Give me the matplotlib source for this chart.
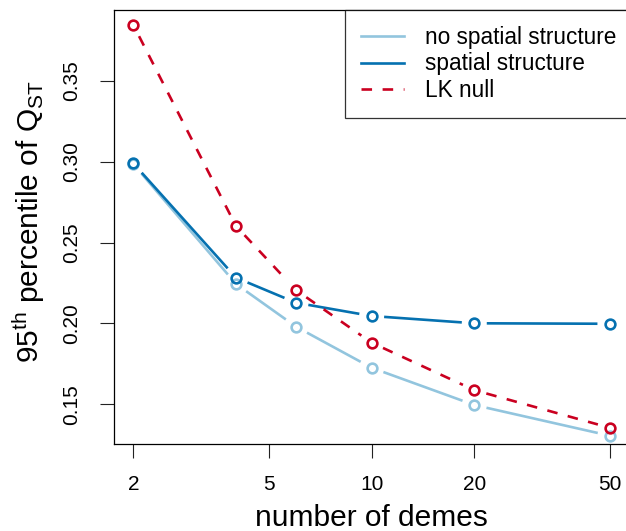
import numpy as np
import matplotlib
matplotlib.use("Agg")
import matplotlib.pyplot as plt
from matplotlib.lines import Line2D

plt.rcParams['font.family'] = ['Liberation Sans', 'DejaVu Sans']
plt.rcParams['mathtext.default'] = 'regular'

demes = [2, 4, 6, 10, 20, 50]
no_spatial = [0.2985, 0.2244, 0.1980, 0.1726, 0.1496, 0.1306]
spatial = [0.2989, 0.2283, 0.2128, 0.2046, 0.2001, 0.1998]
lk_null = [0.3844, 0.2602, 0.2206, 0.1881, 0.1588, 0.1355]

series = [
    ("no spatial structure", no_spatial, "#92C5DE", "-"),
    ("spatial structure", spatial, "#0571B0", "-"),
    ("LK null", lk_null, "#CA0020", "--"),
]

W, H = 626, 531
fig = plt.figure(figsize=(W / 100, H / 100), dpi=100)
ax = fig.add_axes([114.3 / W, 1 - 444 / H, (629 - 114.3) / W, (444 - 10) / H])
ax.set_xscale("log")
lo, hi = np.log10(demes[0]), np.log10(demes[-1])
pad = 0.04 * (hi - lo)
ax.set_xlim(10 ** (lo - pad), 10 ** (hi + pad))
ax.set_ylim(0.1255, 0.3937)

GAP = 12.5  # px, like R's type="b"


def plot_b(ax, x, y, color, ls):
    pts = ax.transData.transform(np.column_stack([x, y]))
    inv = ax.transData.inverted()
    for p0, p1 in zip(pts[:-1], pts[1:]):
        d = p1 - p0
        n = np.hypot(*d)
        if n <= 2 * GAP:
            continue
        u = d / n
        a = inv.transform(p0 + u * GAP)
        b = inv.transform(p1 - u * GAP)
        kw = dict(dashes=(4, 4)) if ls == "--" else {}
        ax.plot([a[0], b[0]], [a[1], b[1]], color=color, lw=1.9,
                solid_capstyle="butt", dash_capstyle="butt", **kw)
    ax.plot(x, y, ls="none", marker="o", ms=7, mew=1.9,
            mfc="none", mec=color)


for label, vals, color, ls in series:
    plot_b(ax, demes, vals, color, ls)

ax.set_xticks(demes[:1] + [5, 10, 20, 50])
ax.set_xticklabels(["2", "5", "10", "20", "50"])
ax.xaxis.set_minor_locator(matplotlib.ticker.NullLocator())
ax.set_yticks([0.15, 0.20, 0.25, 0.30, 0.35])
ax.set_yticklabels(["0.15", "0.20", "0.25", "0.30", "0.35"])
ax.tick_params(axis="both", direction="out", length=10, width=0.8,
               labelsize=15, color="#222222")
ax.tick_params(axis="x", pad=12)
ax.tick_params(axis="y", pad=14, labelrotation=90)
for t in ax.get_yticklabels():
    t.set_va("center")
for s in ax.spines.values():
    s.set_linewidth(0.9)

fig.text(371 / W, 1 - 526 / H, "number of demes", fontsize=21.5,
         ha="center", va="baseline")
fig.text(29 / W, 1 - 222 / H, r"95$^{th}$ percentile of Q$_{ST}$",
         fontsize=21.5, rotation=90, ha="center", va="center")

handles = [Line2D([], [], color=c, lw=1.9, ls=ls,
                  **(dict(dashes=(4, 4)) if ls == "--" else {}))
           for _, _, c, ls in series]
leg = ax.legend(handles, [s[0] for s in series], loc="upper left",
                bbox_to_anchor=((345 - 114.3) / (629 - 114.3), 1.0),
                borderaxespad=0, fontsize=16.3, frameon=True, fancybox=False,
                handlelength=1.9, handletextpad=0.9, labelspacing=0.14,
                borderpad=0.72)
leg.get_frame().set_edgecolor("black")
leg.get_frame().set_linewidth(0.9)

fig.savefig("out.png", dpi=100)
